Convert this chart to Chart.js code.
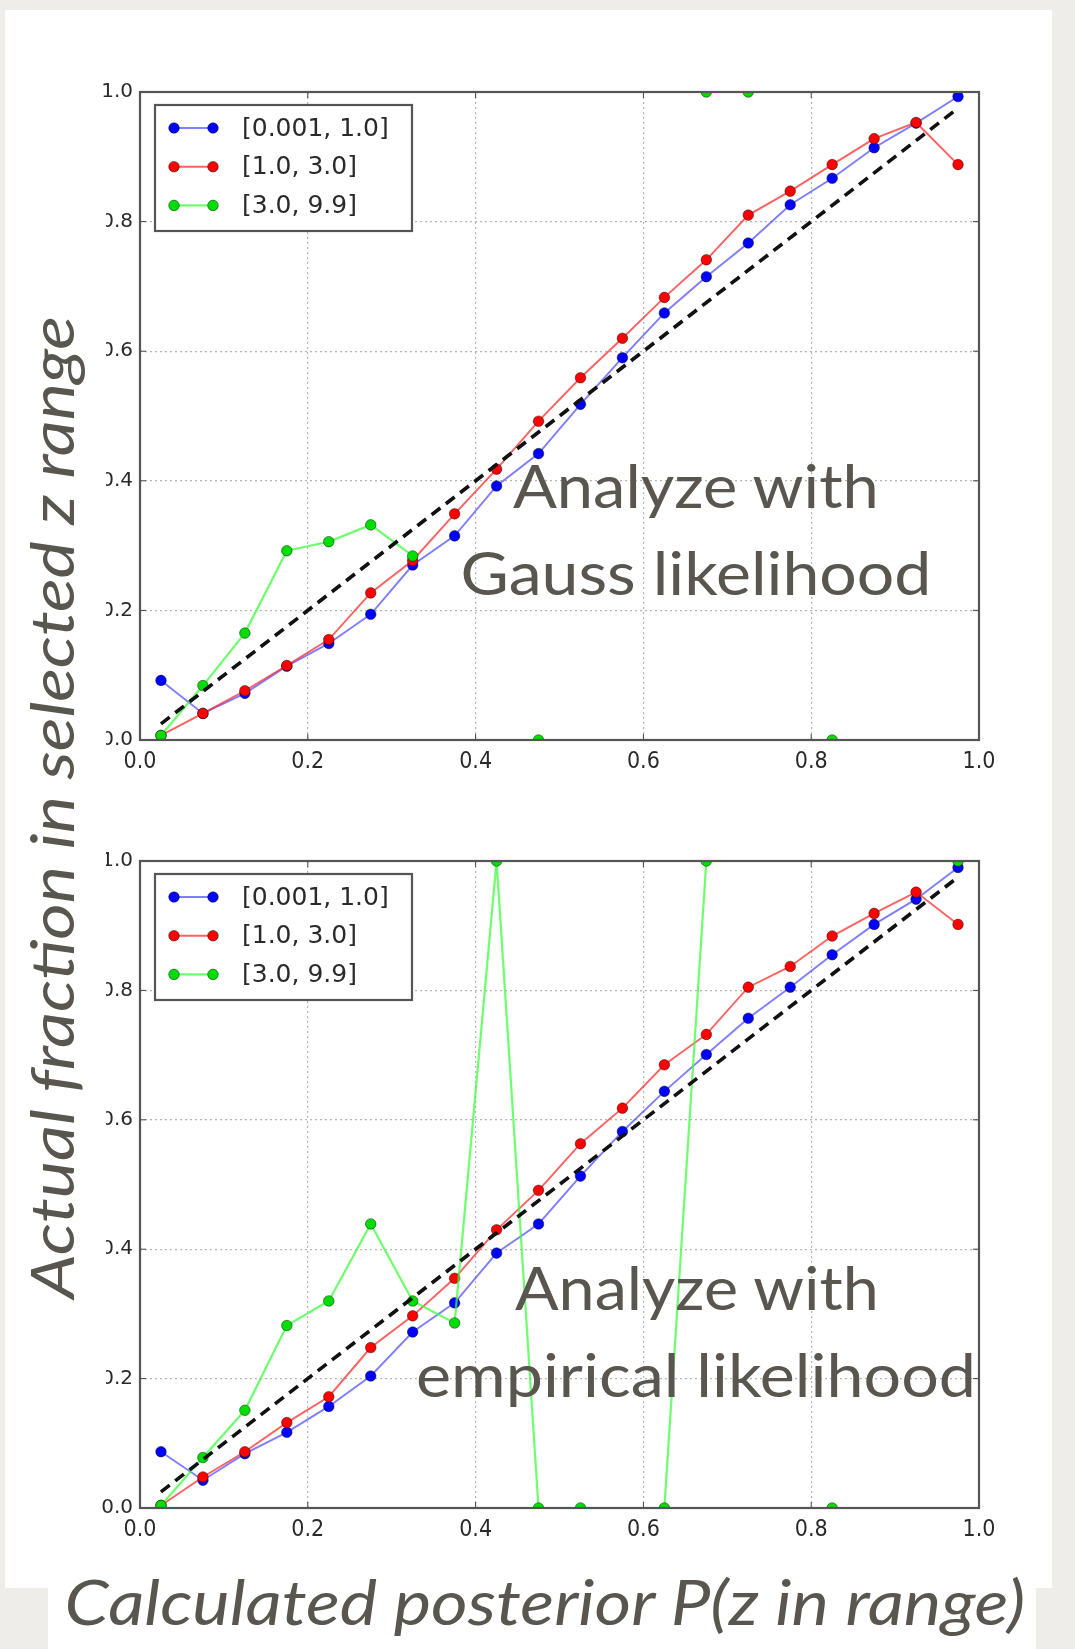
<!DOCTYPE html>
<html>
<head>
<meta charset="utf-8">
<script src="https://cdn.jsdelivr.net/npm/chart.js@4.4.1/dist/chart.umd.min.js"></script>
<style>
  html, body { margin: 0; padding: 0; }
  body { width: 1075px; height: 1649px; position: relative; overflow: hidden; background: #eeedea; }
  .abs { position: absolute; }
  #panel { left: 5px; top: 10px; width: 1047px; height: 1578px; background: #fff; }
  #titlebox { left: 48px; top: 1588px; width: 988px; height: 61px; background: #fff; }
  #mask { left: 5px; top: 100px; width: 101px; height: 1396px; background: #fff; }
  .txt { position: absolute; left: 0; top: 0; white-space: nowrap; line-height: 1;
         color: #59554f; font-family: Lato, "Open Sans", sans-serif; transform-origin: 0 0; }
  .txt i.bl { display: inline-block; width: 0; height: 0; vertical-align: baseline; }
  .ital { font-style: italic; }
</style>
</head>
<body>
<div id="panel" class="abs"></div>
<div id="titlebox" class="abs"></div>
<canvas id="chartGauss" class="abs" style="left:0;top:0" width="1075" height="800"></canvas>
<canvas id="chartEmp" class="abs" style="left:0;top:800px" width="1075" height="780"></canvas>
<div id="mask" class="abs"></div>

<div class="txt" id="noteG1" style="font-size:60px">Analyze with<i class="bl"></i></div>
<div class="txt" id="noteG2" style="font-size:60px">Gauss likelihood<i class="bl"></i></div>
<div class="txt" id="noteE1" style="font-size:60px">Analyze with<i class="bl"></i></div>
<div class="txt" id="noteE2" style="font-size:60px">empirical likelihood<i class="bl"></i></div>
<div class="txt ital" id="yTitle" style="font-size:60px">Actual fraction in selected z range<i class="bl"></i></div>
<div class="txt ital" id="xTitle" style="font-size:62px">Calculated posterior P(z in range)<i class="bl"></i></div>

<script>
// bin centres of P(z in range)
const binCenters = [0.025, 0.075, 0.125, 0.175, 0.225, 0.275, 0.325, 0.375, 0.425, 0.475,
                    0.525, 0.575, 0.625, 0.675, 0.725, 0.775, 0.825, 0.875, 0.925, 0.975];

const seriesNames = ['[0.001, 1.0]', '[1.0, 3.0]', '[3.0, 9.9]'];

// top panel: Gauss likelihood
const gaussLow  = [0.092, 0.041, 0.072, 0.114, 0.149, 0.194, 0.270, 0.315, 0.392, 0.442,
                   0.518, 0.590, 0.659, 0.715, 0.767, 0.826, 0.867, 0.914, 0.952, 0.993];
const gaussMid  = [0.007, 0.041, 0.076, 0.115, 0.155, 0.227, 0.277, 0.349, 0.418, 0.492,
                   0.559, 0.620, 0.683, 0.741, 0.810, 0.847, 0.888, 0.928, 0.953, 0.888];
const gaussHigh = [0.007, 0.084, 0.165, 0.292, 0.306, 0.332, 0.284, null, null, 0,
                   null, null, null, 1, 1, null, 0, null, null, null];

// bottom panel: empirical likelihood
const empLow  = [0.087, 0.043, 0.084, 0.117, 0.157, 0.204, 0.272, 0.317, 0.394, 0.439,
                 0.513, 0.582, 0.644, 0.701, 0.757, 0.805, 0.855, 0.902, 0.941, 0.990];
const empMid  = [0.004, 0.048, 0.087, 0.132, 0.172, 0.248, 0.297, 0.355, 0.430, 0.491,
                 0.563, 0.618, 0.685, 0.732, 0.805, 0.837, 0.884, 0.919, 0.952, 0.902];
const empHigh = [0.004, 0.078, 0.151, 0.282, 0.320, 0.439, 0.320, 0.286, 1.0, 0,
                 0, null, 0, 1.0, null, null, 0, null, null, 1.0];

// perfect calibration reference
const diagX = [0.025, 0.975];
const diagY = [0.025, 0.975];

const tickLabels = ['0.0', '0.2', '0.4', '0.6', '0.8', '1.0'];

const lineColors   = ['rgba(40,40,255,0.6)', 'rgba(255,30,30,0.7)', 'rgba(60,255,60,0.75)'];
const markerColors = ['#0000ff', '#ff0000', '#00dd00'];

function pts(xs, ys) {
    return xs.map((x, i) => ({ x: x, y: ys[i] }));
}

function seriesSet(low, mid, high) {
    let vals = [low, mid, high];
    let sets = vals.map((v, i) => ({
        label: seriesNames[i],
        data: pts(binCenters, v),
        borderColor: lineColors[i],
        borderWidth: i == 2 ? 2.2 : 1.9,
        pointBackgroundColor: markerColors[i],
        pointBorderColor: 'rgba(0,0,0,0.55)',
        pointBorderWidth: 0.8,
        pointRadius: 5.3,
        tension: 0,
        spanGaps: false
    }));
    // chart.js draws dataset 0 on top -> dashed reference first, then green, red, blue
    return [{
        label: 'diag',
        data: pts(diagX, diagY),
        borderColor: '#111',
        borderWidth: 3.6,
        borderDash: [11, 7],
        pointRadius: 0
    }, sets[2], sets[1], sets[0]];
}

// frame, inward ticks and boxed legend like matplotlib
const mplDecor = {
    id: 'mplDecor',
    afterDatasetsDraw(chart) {
        const ctx = chart.ctx;
        const a = chart.chartArea;
        const sx = chart.scales.x, sy = chart.scales.y;
        ctx.save();
        ctx.strokeStyle = '#444';
        ctx.lineWidth = 1;
        sx.ticks.forEach(t => {
            let x = sx.getPixelForValue(t.value);
            ctx.beginPath();
            ctx.moveTo(x, a.bottom); ctx.lineTo(x, a.bottom - 6);
            ctx.moveTo(x, a.top); ctx.lineTo(x, a.top + 6);
            ctx.stroke();
        });
        sy.ticks.forEach(t => {
            let y = sy.getPixelForValue(t.value);
            ctx.beginPath();
            ctx.moveTo(a.left, y); ctx.lineTo(a.left + 6, y);
            ctx.moveTo(a.right, y); ctx.lineTo(a.right - 6, y);
            ctx.stroke();
        });
        ctx.strokeStyle = '#555';
        ctx.lineWidth = 2.2;
        ctx.strokeRect(a.left, a.top, a.right - a.left, a.bottom - a.top);

        // legend box
        let bx = a.left + 15, by = a.top + 13, bw = 257, bh = 126;
        ctx.fillStyle = '#fff';
        ctx.fillRect(bx, by, bw, bh);
        ctx.strokeStyle = '#555';
        ctx.lineWidth = 2.2;
        ctx.strokeRect(bx, by, bw, bh);
        ctx.font = '25px "DejaVu Sans"';
        ctx.textBaseline = 'middle';
        seriesNames.forEach((name, i) => {
            let ds = chart.data.datasets.find(d => d.label == name);
            let y = a.top + 36 + i * 38.7;
            let x1 = a.left + 34, x2 = a.left + 73;
            ctx.strokeStyle = ds.borderColor;
            ctx.lineWidth = ds.borderWidth;
            ctx.beginPath(); ctx.moveTo(x1, y); ctx.lineTo(x2, y); ctx.stroke();
            [x1, x2].forEach(x => {
                ctx.beginPath();
                ctx.arc(x, y, ds.pointRadius, 0, Math.PI * 2);
                ctx.fillStyle = ds.pointBackgroundColor;
                ctx.fill();
                ctx.strokeStyle = ds.pointBorderColor;
                ctx.lineWidth = ds.pointBorderWidth;
                ctx.stroke();
            });
            ctx.fillStyle = '#2a2a2a';
            ctx.fillText(name, a.left + 102, y + 1);
        });
        ctx.restore();
    }
};

function makeChart(id, datasets, padTop, xAxisHeight) {
    return new Chart(document.getElementById(id), {
        type: 'line',
        data: { datasets: datasets },
        plugins: [mplDecor],
        options: {
            responsive: false,
            animation: false,
            devicePixelRatio: 1,
            layout: { padding: { top: padTop, right: 96, left: 0, bottom: 0 } },
            plugins: { legend: { display: false }, tooltip: { enabled: false } },
            scales: {
                x: {
                    type: 'linear', min: 0, max: 1,
                    afterFit: s => { s.height = xAxisHeight; },
                    ticks: {
                        stepSize: 0.2, padding: 8, color: '#2a2a2a',
                        font: { family: '"DejaVu Sans Condensed", "DejaVu Sans"', size: 23 },
                        callback: v => tickLabels[Math.round(v * 5)]
                    },
                    grid: { color: '#b5b5b5', lineWidth: 1.2, drawTicks: false },
                    border: { display: false, dash: [2, 3] }
                },
                y: {
                    min: 0, max: 1,
                    afterFit: s => { s.width = 140; },
                    ticks: {
                        stepSize: 0.2, padding: 7, color: '#2a2a2a',
                        font: { family: '"DejaVu Sans"', size: 20 },
                        callback: v => tickLabels[Math.round(v * 5)]
                    },
                    grid: { color: '#b5b5b5', lineWidth: 1.2, drawTicks: false },
                    border: { display: false, dash: [2, 3] }
                }
            }
        }
    });
}

makeChart('chartGauss', seriesSet(gaussLow, gaussMid, gaussHigh), 92, 60);
makeChart('chartEmp', seriesSet(empLow, empMid, empHigh), 61, 72);

// place big text: centre x, baseline y, target width, rotation
function placeText(id, cx, baseY, width, rot) {
    let el = document.getElementById(id);
    let w = el.offsetWidth;
    let b = el.querySelector('i.bl').offsetTop;
    let s = width / w;
    el.style.transform = 'translate(' + cx + 'px,' + baseY + 'px) rotate(' + rot + 'deg) scaleX(' + s +
        ') translate(' + (-w / 2) + 'px,' + (-b) + 'px)';
}

function layoutText() {
    placeText('noteG1', 696, 508, 366, 0);
    placeText('noteG2', 696, 595, 471, 0);
    placeText('noteE1', 697, 1310, 364, 0);
    placeText('noteE2', 696, 1397, 560, 0);
    placeText('yTitle', 74, 807, 983, -90);
    placeText('xTitle', 545, 1625, 961, 0);
}
layoutText();
if (document.fonts) document.fonts.ready.then(layoutText);
</script>
</body>
</html>
